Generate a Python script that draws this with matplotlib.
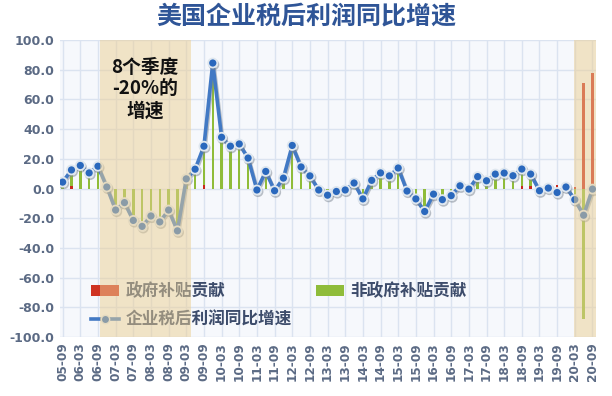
import matplotlib
matplotlib.use("Agg")
import matplotlib.pyplot as plt
import matplotlib.patheffects as pe
from matplotlib.patches import Patch
from matplotlib.lines import Line2D
import numpy as np

plt.rcParams['font.family'] = ['Noto Sans CJK SC', 'DejaVu Sans']

quarters = ["05-09", "05-12", "06-03", "06-06", "06-09", "06-12", "07-03", "07-06", "07-09", "07-12",
            "08-03", "08-06", "08-09", "08-12", "09-03", "09-06", "09-09", "09-12", "10-03", "10-06",
            "10-09", "10-12", "11-03", "11-06", "11-09", "11-12", "12-03", "12-06", "12-09", "12-12",
            "13-03", "13-06", "13-09", "13-12", "14-03", "14-06", "14-09", "14-12", "15-03", "15-06",
            "15-09", "15-12", "16-03", "16-06", "16-09", "16-12", "17-03", "17-06", "17-09", "17-12",
            "18-03", "18-06", "18-09", "18-12", "19-03", "19-06", "19-09", "19-12", "20-03", "20-06",
            "20-09"]

growth = [4.3, 12.5, 15.5, 10.5, 15.0, 1.0, -14.5, -9.5, -21.5, -25.5,
          -18.5, -22.5, -14.5, -28.5, 6.5, 13.0, 28.5, 84.5, 34.5, 28.5,
          30.0, 20.5, -1.0, 11.5, -1.5, 7.0, 29.0, 14.5, 8.5, -1.0,
          -4.5, -2.0, -1.0, 3.7, -7.0, 5.5, 10.5, 8.5, 13.8, -1.7,
          -7.0, -15.5, -3.8, -7.5, -4.8, 1.8, -0.4, 8.0, 5.2, 9.7,
          10.4, 8.6, 13.1, 9.7, -1.5, 0.3, -2.7, 1.0, -7.5, -18.0,
          -0.4]

gov_subsidy = [0.0, 2.0, 0.0, 0.0, 0.0, 0.0, 0.0, 0.0, 0.0, 0.0,
               0.0, 0.0, 0.0, 0.0, 0.0, 0.0, 2.5, 0.0, 0.0, 0.0,
               0.0, 0.0, 0.0, 0.0, 0.0, 0.0, 0.0, 0.0, 0.0, 0.0,
               0.0, 0.0, 0.0, 0.0, 0.0, 0.0, 0.0, 0.0, 0.0, 0.0,
               0.0, 0.0, 0.0, 0.0, 0.0, 0.0, 0.0, 0.0, 0.0, 0.0,
               0.0, 0.0, 2.0, 1.5, 0.0, 0.0, 2.5, 0.0, 1.0, 71.0,
               78.0]

non_gov_subsidy = [4.0, 10.5, 15.0, 10.0, 14.5, 1.0, -14.5, -9.5, -21.5, -25.5,
                   -18.5, -22.5, -14.5, -28.5, 6.5, 13.0, 26.0, 84.0, 34.0, 28.0,
                   29.5, 20.0, 3.0, 11.0, 2.0, 6.5, 28.5, 14.0, 8.0, -1.0,
                   -4.5, -2.0, -1.0, 3.5, -7.0, 5.5, 10.0, 8.0, 13.5, -1.7,
                   -7.0, -15.0, -3.8, -7.5, -4.8, 1.8, -0.4, 8.0, 5.0, 9.5,
                   10.0, 8.5, 11.0, 8.0, -1.5, 0.3, -5.0, 1.0, -8.5, -88.0,
                   -2.0]

tick_labels = quarters[::2]

title_color = '#2f5597'
text_color = '#3d4c6b'
tick_color = '#5b6a84'

fig = plt.figure(figsize=(6.12, 3.96), dpi=100)
ax = fig.add_axes([60/612, 1-337/396, 536/612, 297/396])
ax.set_facecolor('#f6f8fc')

x = np.arange(len(quarters))
ax.set_xlim(-0.3, 60.4)
ax.set_ylim(-100, 100)

ax.set_yticks(np.arange(-100, 101, 20))
ax.set_yticklabels([f"{v:.1f}" for v in np.arange(-100, 101, 20)],
                   fontfamily='DejaVu Sans', fontweight='bold', fontsize=9, color=tick_color)
ax.set_xticks(x[::2])
ax.set_xticklabels(tick_labels, rotation=90, fontfamily='DejaVu Sans', fontweight='bold',
                   fontsize=8.7, color=tick_color)
ax.tick_params(axis='both', length=0, pad=4)
ax.grid(True, color='#dbe3f0', linewidth=1.0, zorder=0)
ax.set_axisbelow(True)
for s in ax.spines.values():
    s.set_visible(False)

ax.bar(x, non_gov_subsidy, width=0.28, color='#8fbc3a', zorder=2)
ax.bar(x, gov_subsidy, width=0.28, color='#c9281c', zorder=3)

ax.plot(x, growth, color='#4279c4', linewidth=2.6, marker='o', markersize=6.5,
        markerfacecolor='#2a68bd', markeredgecolor='#dfe7ef', markeredgewidth=1.3, zorder=4,
        path_effects=[pe.SimpleLineShadow(offset=(0.8, -1.2), shadow_color='#7a8490', alpha=0.5),
                      pe.Normal()])

handles = [Patch(facecolor='#cf3322', edgecolor='none'),
           Line2D([0], [0], color='#4279c4', linewidth=2.6, marker='o', markersize=6,
                  markerfacecolor='#2a68bd', markeredgecolor='#dfe7ef'),
           Patch(facecolor='#8fbc3a', edgecolor='none')]
labels = ['政府补贴贡献', '企业税后利润同比增速', '非政府补贴贡献']
leg = ax.legend(handles, labels, ncol=2, loc='upper left', bbox_to_anchor=(0.03, 0.235),
                frameon=False, handlelength=1.7, handleheight=0.7, handletextpad=0.4,
                columnspacing=1.4, labelspacing=0.65,
                prop={'family': 'Noto Sans CJK SC', 'weight': 'bold', 'size': 12})
for t in leg.get_texts():
    t.set_color(text_color)
leg.set_zorder(5)

ax.axvspan(4.2, 14.5, color='#ebcf92', alpha=0.5, zorder=6, linewidth=0)
ax.axvspan(57.9, 60.4, color='#ebcf92', alpha=0.5, zorder=6, linewidth=0)

ax.text(9.3, 88, "8个季度\n-20%的\n增速", ha='center', va='top', fontsize=13.5,
        fontweight='heavy', color='#111111', linespacing=1.2, zorder=7)

fig.text(0.5, 1-16/396, "美国企业税后利润同比增速", ha='center', va='center',
         fontsize=18, fontweight='bold', color=title_color)

fig.savefig("out.png", dpi=100)
